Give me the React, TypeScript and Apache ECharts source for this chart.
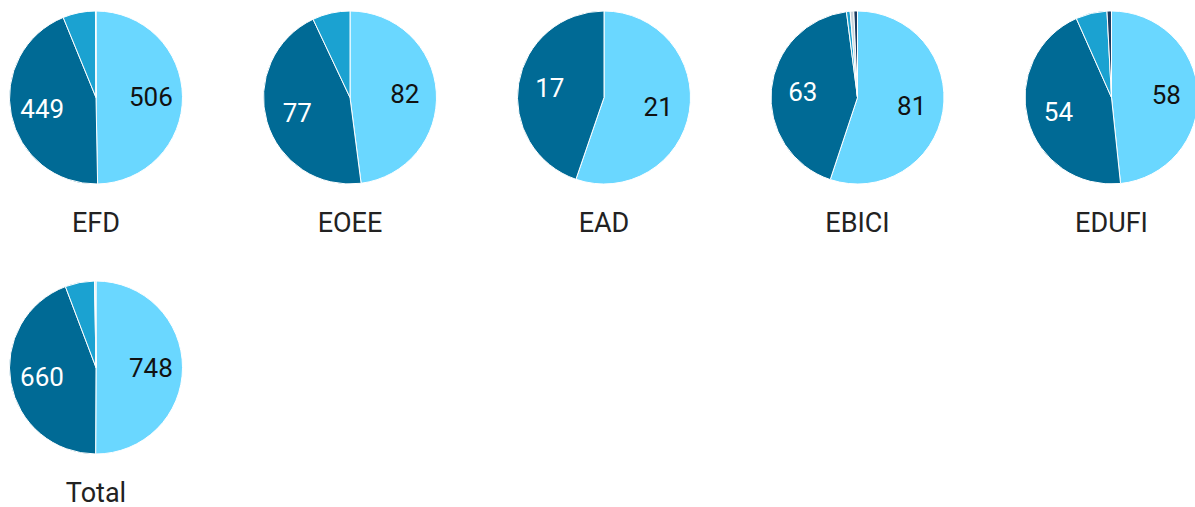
import React, { useEffect, useRef } from "react";
import * as echarts from "echarts";

const categories = ["EFD", "EOEE", "EAD", "EBICI", "EDUFI", "Total"];
const sliceNames = ["Slice 1", "Slice 2", "Slice 3", "Slice 4", "Slice 5"];
const lightValues = [506, 82, 21, 81, 58, 748];
const darkValues = [449, 77, 17, 63, 54, 660];
const mediumValues = [62, 12, 0, 1, 7, 82];
const grayValues = [1, 0, 0, 1, 0, 2];
const navyValues = [0, 0, 0, 1, 1, 2];

const sliceColors = ["#6AD7FF", "#006A95", "#1BA2D1", "#C9D3DA", "#1B3D62"];
const labelColors = ["#111111", "#FFFFFF"];

const centers: [number, number][] = [
  [96, 97.5],
  [350, 97.5],
  [604, 97.5],
  [857.5, 97.5],
  [1111.5, 97.5],
  [96, 367.5],
];
const R = 86.5;

export default function App() {
  const ref = useRef<HTMLDivElement>(null);
  useEffect(() => {
    document.body.style.margin = "0";
    const chart = echarts.init(ref.current!, undefined, { renderer: "svg" });
    const series: any[] = [];
    const graphic: any[] = [];
    categories.forEach((cat, i) => {
      const vals = [lightValues[i], darkValues[i], mediumValues[i], grayValues[i], navyValues[i]];
      const items = vals
        .map((v, k) => ({ v, k }))
        .filter((d) => d.v > 0);
      series.push({
        type: "pie",
        name: cat,
        center: centers[i],
        radius: R,
        startAngle: 90,
        clockwise: true,
        silent: true,
        label: { show: false },
        labelLine: { show: false },
        itemStyle: { borderColor: "#ffffff", borderWidth: 1 },
        data: items.map((d) => ({
          name: sliceNames[d.k],
          value: d.v,
          itemStyle: { color: sliceColors[d.k] },
        })),
      });
      series.push({
        type: "pie",
        name: cat + " labels",
        center: centers[i],
        radius: [R * 0.2, R],
        startAngle: 90,
        clockwise: true,
        silent: true,
        labelLine: { show: false },
        itemStyle: { color: "rgba(0,0,0,0)", borderWidth: 0 },
        data: items.map((d) => ({
          name: sliceNames[d.k],
          value: d.v,
          label: {
            show: d.k < 2,
            position: "inside",
            formatter: "{c}",
            color: labelColors[d.k] || "#000",
            fontSize: 26,
            fontFamily: "Roboto",
          },
        })),
      });
      graphic.push({
        type: "text",
        x: centers[i][0],
        y: centers[i][1] + 125,
        style: {
          text: cat,
          fill: "#222222",
          fontSize: 27,
          lineHeight: 24,
          fontFamily: "Roboto",
          textAlign: "center",
          textVerticalAlign: "middle",
        },
      });
    });
    chart.setOption({
      animation: false,
      backgroundColor: "#ffffff",
      series,
      graphic,
    });
    return () => chart.dispose();
  }, []);
  return <div ref={ref} style={{ width: 1195, height: 507 }} />;
}
